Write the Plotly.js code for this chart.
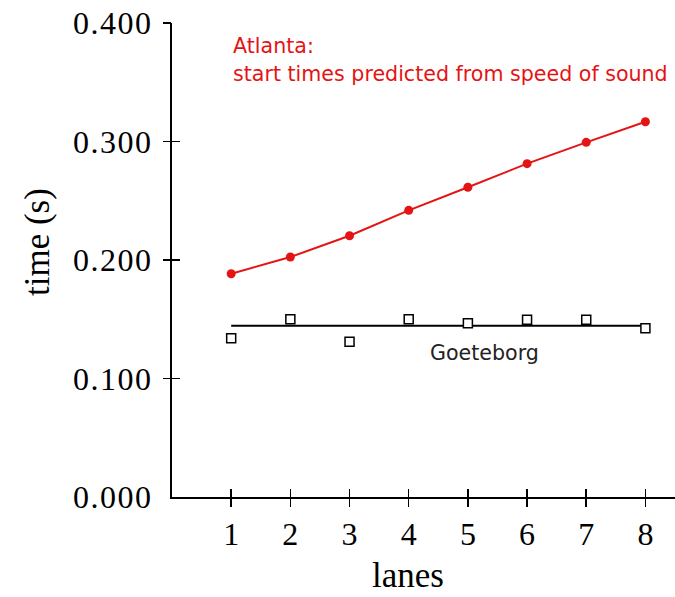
<!DOCTYPE html>
<html>
<head>
<meta charset="utf-8">
<script src="https://cdn.plot.ly/plotly-3.0.1.min.js"></script>
<style>html,body{margin:0;padding:0;background:#fff;}#chart{width:675px;height:597px;}</style>
</head>
<body>
<div id="chart"></div>
<script>
// ---- data ----
const lanes = [1, 2, 3, 4, 5, 6, 7, 8];
const atlantaTimes = [0.1884, 0.2025, 0.2205, 0.2419, 0.2614, 0.2813, 0.2993, 0.3167];
const goteborgTimes = [0.1339, 0.1500, 0.1311, 0.1500, 0.1466, 0.1496, 0.1496, 0.1424];
const fitLanes = [1, 8];
const fitTimes = [0.1446, 0.1446];
const yTickVals = [0, 0.1, 0.2, 0.3, 0.4];
const yTickText = ['0.000', '0.100', '0.200', '0.300', '0.400'];
const yMarkVals = [0.1, 0.2, 0.3, 0.4];
const xTickText = ['1', '2', '3', '4', '5', '6', '7', '8'];
const xTitle = 'lanes';
const yTitle = 'time (s)';
const atlantaLabel1 = 'Atlanta:';
const atlantaLabel2 = 'start times predicted from speed of sound';
const goteborgLabel = 'Goeteborg';

const xRange = [0, 8.5];
const yRange = [0, 0.4];
const serif = 'Liberation Serif, Times New Roman, serif';
const sans = 'DejaVu Sans, Verdana, sans-serif';
const spaced = s => '<span style="letter-spacing:1.5px">' + s + '</span>';

const traces = [
  { x: fitLanes, y: fitTimes, xaxis: 'x', yaxis: 'y', mode: 'lines',
    line: { color: '#000', width: 2 }, hoverinfo: 'skip', showlegend: false },
  { x: lanes, y: goteborgTimes, xaxis: 'x2', yaxis: 'y2', mode: 'markers',
    marker: { symbol: 'square', size: 9, color: '#fff', line: { color: '#000', width: 1.5 } },
    showlegend: false },
  { x: lanes, y: atlantaTimes, xaxis: 'x3', yaxis: 'y3', mode: 'lines+markers',
    line: { color: 'rgb(228,20,20)', width: 2 },
    marker: { symbol: 'circle', size: 9, color: 'rgb(228,20,20)' },
    showlegend: false }
];

const layout = {
  width: 675, height: 597,
  margin: { l: 172, r: 0, t: 23, b: 100, pad: 0 },
  paper_bgcolor: '#fff', plot_bgcolor: '#fff',
  showlegend: false,
  xaxis: {
    range: xRange, tickmode: 'array', tickvals: lanes, ticktext: xTickText,
    ticks: 'outside', ticklen: 8, tickwidth: 1.5, tickcolor: '#000',
    showline: true, linecolor: '#000', linewidth: 2, showgrid: false, zeroline: false,
    tickfont: { family: serif, size: 32, color: '#000' },
    fixedrange: true
  },
  yaxis: {
    range: yRange, tickmode: 'array', tickvals: yTickVals, ticktext: yTickText.map(spaced),
    ticks: '', showline: true, linecolor: '#000', linewidth: 2, showgrid: false, zeroline: false,
    tickfont: { family: serif, size: 32, color: '#000' },
    ticklabelstandoff: 11,
    fixedrange: true
  },
  xaxis2: {
    overlaying: 'x', anchor: 'y2', side: 'bottom', range: xRange,
    tickmode: 'array', tickvals: lanes, ticks: 'inside', ticklen: 8, tickwidth: 1.5, tickcolor: '#000',
    showticklabels: false, showline: false, showgrid: false, zeroline: false, fixedrange: true
  },
  yaxis2: {
    overlaying: 'y', anchor: 'x2', side: 'left', range: yRange,
    tickmode: 'array', tickvals: yMarkVals, ticks: 'outside', ticklen: 8, tickwidth: 1.5, tickcolor: '#000',
    showticklabels: false, showline: false, showgrid: false, zeroline: false, fixedrange: true
  },
  xaxis3: {
    overlaying: 'x', anchor: 'y3', side: 'bottom', range: xRange, visible: false, fixedrange: true
  },
  yaxis3: {
    overlaying: 'y', anchor: 'x3', side: 'left', range: yRange,
    tickmode: 'array', tickvals: yMarkVals, ticks: 'inside', ticklen: 8, tickwidth: 1.5, tickcolor: '#000',
    showticklabels: false, showline: false, showgrid: false, zeroline: false, fixedrange: true
  },
  annotations: [
    { text: xTitle, xref: 'paper', yref: 'paper', x: (408 - 172) / 503, y: (497 - 575) / 474,
      xanchor: 'center', yanchor: 'middle', showarrow: false,
      font: { family: serif, size: 35, color: '#000' } },
    { text: yTitle, xref: 'paper', yref: 'paper', x: (37 - 172) / 503, y: (497 - 242) / 474,
      xanchor: 'center', yanchor: 'middle', textangle: -90, showarrow: false,
      font: { family: serif, size: 35, color: '#000' } },
    { text: atlantaLabel1, xref: 'x', yref: 'y', x: 1, y: 0.3806, xanchor: 'left', yanchor: 'middle',
      showarrow: false, font: { family: sans, size: 20.6, color: 'rgb(228,20,20)' } },
    { text: atlantaLabel2, xref: 'x', yref: 'y', x: 1, y: 0.3570, xanchor: 'left', yanchor: 'middle',
      showarrow: false, font: { family: sans, size: 20.6, color: 'rgb(228,20,20)' } },
    { text: goteborgLabel, xref: 'x', yref: 'y', x: 5.28, y: 0.1215, xanchor: 'center', yanchor: 'middle',
      showarrow: false, font: { family: sans, size: 20.6, color: '#222' } }
  ]
};

Plotly.newPlot('chart', traces, layout, { displayModeBar: false, staticPlot: true });
</script>
</body>
</html>
